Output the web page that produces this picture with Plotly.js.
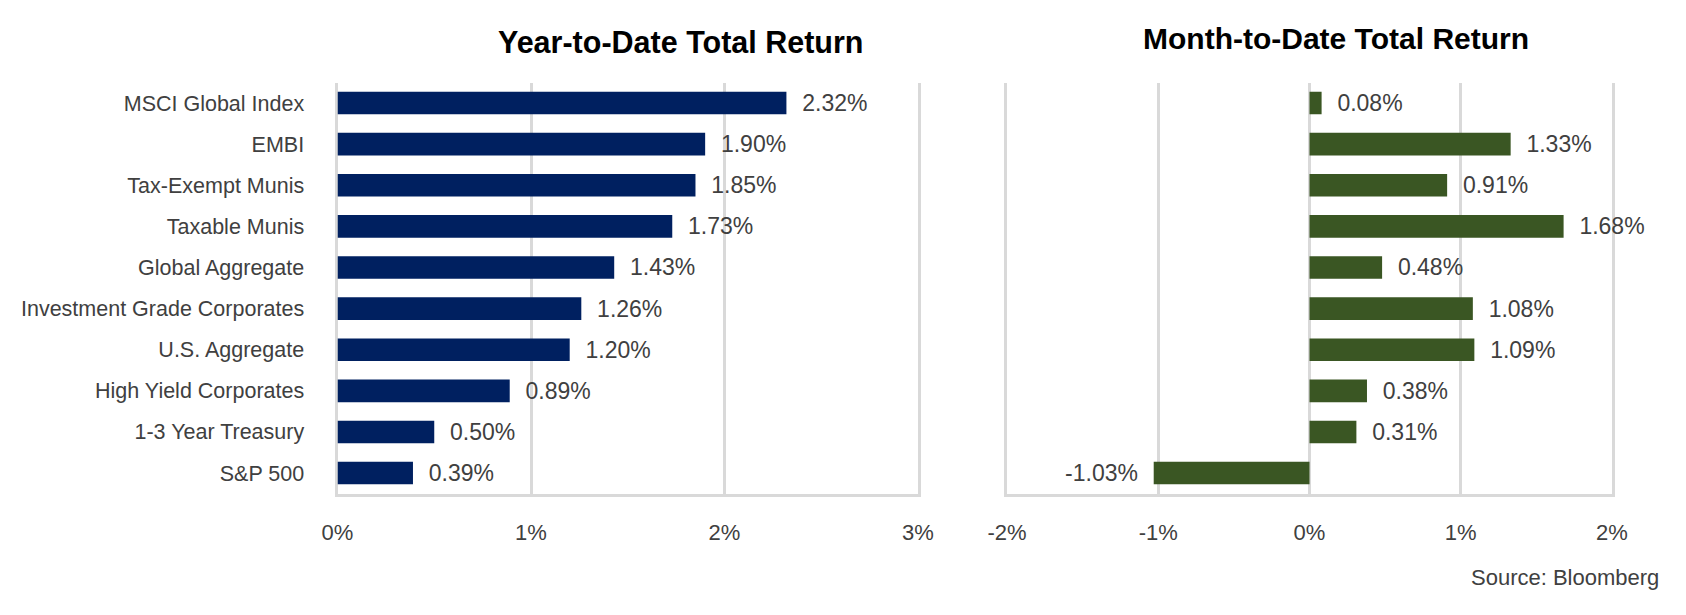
<!DOCTYPE html>
<html>
<head>
<meta charset="utf-8">
<script src="https://cdn.plot.ly/plotly-3.0.1.min.js"></script>
<style>html,body{margin:0;padding:0;background:#fff;}#chart{width:1686px;height:615px;}</style>
</head>
<body>
<div id="chart"></div>
<script>
// ---- data ----
const categories = ["MSCI Global Index","EMBI","Tax-Exempt Munis","Taxable Munis","Global Aggregate","Investment Grade Corporates","U.S. Aggregate","High Yield Corporates","1-3 Year Treasury","S&P 500"];
const ytdReturn = [2.32, 1.90, 1.85, 1.73, 1.43, 1.26, 1.20, 0.89, 0.50, 0.39];
const mtdReturn = [0.08, 1.33, 0.91, 1.68, 0.48, 1.08, 1.09, 0.38, 0.31, -1.03];
const ytdTickVals = [0, 1, 2, 3];
const ytdTickText = ["0%", "1%", "2%", "3%"];
const mtdTickVals = [-2, -1, 0, 1, 2];
const mtdTickText = ["-2%", "-1%", "0%", "1%", "2%"];
const ytdTitle = "Year-to-Date Total Return";
const mtdTitle = "Month-to-Date Total Return";
const sourceText = "Source: Bloomberg";

// ---- styling ----
const W = 1686, H = 615;
const FONT = "Liberation Sans, Arial, sans-serif";
const txtColor = "#404040";
const gridColor = "#d9d9d9";
const px = v => v / W;
const py = v => (H - v) / H;

function label(v) {
  const s = v.toFixed(2) + "%";
  return v < 0 ? s + "\u00a0\u00a0" : "\u00a0\u00a0" + s;
}

const traces = [
  {
    type: "bar", orientation: "h", x: ytdReturn, y: categories,
    xaxis: "x", yaxis: "y",
    marker: {color: "#002060"},
    text: ytdReturn.map(label), textposition: "outside", cliponaxis: false,
    constraintext: "none",
    textfont: {family: FONT, size: 23, color: txtColor},
    hoverinfo: "skip"
  },
  {
    type: "bar", orientation: "h", x: mtdReturn, y: categories,
    xaxis: "x2", yaxis: "y2",
    marker: {color: "#3A5623"},
    text: mtdReturn.map(label), textposition: "outside", cliponaxis: false,
    constraintext: "none",
    textfont: {family: FONT, size: 23, color: txtColor},
    hoverinfo: "skip"
  }
];

const yTop = py(82.5), yBot = py(493.6);
const xCommon = {
  showgrid: true, gridcolor: gridColor, gridwidth: 3,
  zeroline: false, showline: true, linecolor: gridColor, linewidth: 3,
  layer: "below traces",
  tickmode: "array", ticks: "", ticklabelstandoff: 17,
  tickfont: {family: FONT, size: 22, color: txtColor},
  fixedrange: true
};
const yCommon = {
  domain: [yBot, yTop], type: "category",
  categoryorder: "array", categoryarray: categories,
  range: [categories.length - 0.5, -0.5],
  showgrid: false, zeroline: false,
  showline: true, mirror: true, linecolor: gridColor, linewidth: 3,
  layer: "below traces",
  ticks: "", fixedrange: true
};

const layout = {
  width: W, height: H, autosize: false,
  margin: {l: 0, r: 0, t: 0, b: 0, pad: 0},
  paper_bgcolor: "#fff", plot_bgcolor: "#fff",
  showlegend: false, bargap: 0.45,
  xaxis: Object.assign({}, xCommon, {
    domain: [px(337.5), px(918)], range: [0, 3], anchor: "y",
    tickvals: ytdTickVals, ticktext: ytdTickText
  }),
  xaxis2: Object.assign({}, xCommon, {
    domain: [px(1007), px(1612)], range: [-2, 2], anchor: "y2",
    tickvals: mtdTickVals, ticktext: mtdTickText
  }),
  yaxis: Object.assign({}, yCommon, {
    anchor: "x", ticklabelstandoff: 26,
    tickfont: {family: FONT, size: 21.5, color: txtColor}
  }),
  yaxis2: Object.assign({}, yCommon, {
    anchor: "x2", showticklabels: false
  }),
  annotations: [
    {text: ytdTitle, xref: "paper", yref: "paper", x: px(680), y: py(42),
     xanchor: "center", yanchor: "middle", showarrow: false,
     font: {family: FONT, size: 30.5, color: "#000", weight: 700}},
    {text: mtdTitle, xref: "paper", yref: "paper", x: px(1336), y: py(39),
     xanchor: "center", yanchor: "middle", showarrow: false,
     font: {family: FONT, size: 30, color: "#000", weight: 700}},
    {text: sourceText, xref: "paper", yref: "paper", x: px(1661), y: py(577),
     xanchor: "right", yanchor: "middle", showarrow: false,
     font: {family: FONT, size: 22, color: txtColor}}
  ]
};

Plotly.newPlot("chart", traces, layout, {displayModeBar: false, staticPlot: true});
</script>
</body>
</html>
